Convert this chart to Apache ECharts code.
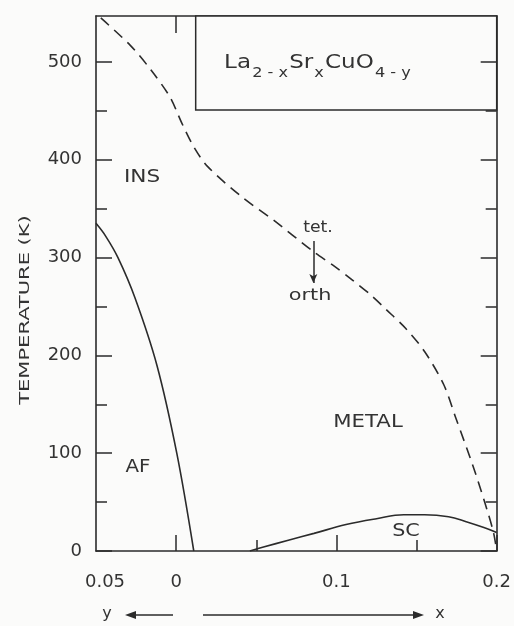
<!DOCTYPE html>
<html>
<head>
<meta charset="utf-8">
<script src="https://cdn.jsdelivr.net/npm/echarts@6/dist/echarts.min.js"></script>
<style>html,body{margin:0;padding:0;background:#fbfbfa;}#c{width:514px;height:626px;}</style>
</head>
<body>
<div id="c"></div>
<script>
// Axis: single composition scale, -0.05..0 is y (reversed label), 0..0.2 is x
var xLabelVals = [-0.05, 0, 0.1, 0.2];
var xLabelText = ['0.05', '0', '0.1', '0.2'];
var xMajorTicks = [0, 0.1, 0.2];
var xMinorTicks = [0.05, 0.15];
var yLabelVals = [0, 100, 200, 300, 400, 500];
var yMinorTicks = [50, 150, 250, 350, 450];

// tetragonal/orthorhombic boundary (dashed)
var tetX = [-0.047, -0.0286, -0.0158, -0.0038, 0.0034, 0.0111, 0.0197, 0.041, 0.061, 0.0857, 0.098, 0.110, 0.122, 0.131, 0.143, 0.155, 0.167, 0.1745, 0.185, 0.1925, 0.198, 0.2];
var tetT = [545, 517, 492, 464, 438, 413, 393, 362, 338, 306, 292, 277, 261, 247, 228, 204, 170, 136, 88, 50, 19, 0];
// antiferromagnetic boundary
var afX = [-0.05, -0.044, -0.0363, -0.0257, -0.012, 0.0004, 0.011];
var afT = [335, 322, 300, 259, 190, 100, 0];
// superconducting dome
var scX = [0.046, 0.0545, 0.07, 0.086, 0.106, 0.125, 0.142, 0.155, 0.17, 0.181, 0.192, 0.2];
var scT = [0, 4, 11, 18, 27, 33, 37, 37, 35, 30, 24, 19];
// tet -> orth arrow and inset box
var arrowX = 0.0856, arrowTop = 317, arrowBottom = 274;
var boxX = [0.0122, 0.2], boxT = [451, 547];

function zip(a, b) { return a.map(function (v, i) { return [v, b[i]]; }); }

var ink = '#2b2b2b';
var font = 'DejaVu Sans';
var chart = echarts.init(document.getElementById('c'));
var common = { type: 'value', min: -0.05, max: 0.2, splitLine: { show: false } };
var ycommon = { type: 'value', min: 0, max: 547, splitLine: { show: false } };
var lineOn = { show: true, onZero: false, lineStyle: { color: ink, width: 1.6 } };
var lineOff = { show: false, onZero: false };
function txt(x, y, s, size, sx) {
  return { type: 'text', x: x, y: y, scaleX: sx, style: { text: s, font: size + 'px "DejaVu Sans"', fill: '#333', textAlign: 'center', textVerticalAlign: 'middle' } };
}
chart.setOption({
  backgroundColor: '#fbfbfa',
  animation: false,
  grid: { left: 96, right: 16, top: 16, bottom: 75 },
  xAxis: [
    Object.assign({}, common, {
      position: 'bottom',
      axisLine: lineOn,
      axisTick: { show: true, inside: true, length: 16, customValues: xMajorTicks, lineStyle: { color: ink, width: 1.5 } },
      axisLabel: { show: true, customValues: xLabelVals, margin: 22, fontSize: 18, fontFamily: font, color: '#333',
        rich: { p: { fontSize: 18, fontFamily: font, color: '#333', padding: [0, 0, 0, 18] } },
        formatter: function (v) {
          for (var i = 0; i < xLabelVals.length; i++) {
            if (Math.abs(v - xLabelVals[i]) < 1e-6) return i === 0 ? '{p|' + xLabelText[i] + '}' : xLabelText[i];
          }
          return '';
        } }
    }),
    Object.assign({}, common, {
      position: 'bottom',
      axisLine: lineOff,
      axisTick: { show: true, inside: true, length: 11, customValues: xMinorTicks, lineStyle: { color: ink, width: 1.5 } },
      axisLabel: { show: false }
    }),
    Object.assign({}, common, {
      position: 'top',
      axisLine: lineOn,
      axisTick: { show: true, inside: true, length: 17, customValues: [0], lineStyle: { color: ink, width: 1.5 } },
      axisLabel: { show: false }
    })
  ],
  yAxis: [
    Object.assign({}, ycommon, {
      position: 'left',
      axisLine: lineOn,
      axisTick: { show: true, inside: true, length: 16, customValues: yLabelVals, lineStyle: { color: ink, width: 1.5 } },
      axisLabel: { show: true, customValues: yLabelVals, margin: 14, fontSize: 18, fontFamily: font, color: '#333' }
    }),
    Object.assign({}, ycommon, {
      position: 'left', offset: 0,
      axisLine: lineOff,
      axisTick: { show: true, inside: true, length: 11, customValues: yMinorTicks, lineStyle: { color: ink, width: 1.5 } },
      axisLabel: { show: false }
    }),
    Object.assign({}, ycommon, {
      position: 'right', z: 5,
      axisLine: lineOn,
      axisTick: { show: true, inside: true, length: 16, customValues: yLabelVals, lineStyle: { color: ink, width: 1.5 } },
      axisLabel: { show: false }
    }),
    Object.assign({}, ycommon, {
      position: 'right', offset: 0, z: 5,
      axisLine: lineOff,
      axisTick: { show: true, inside: true, length: 11, customValues: yMinorTicks, lineStyle: { color: ink, width: 1.5 } },
      axisLabel: { show: false }
    })
  ],
  series: [
    { type: 'line', z: 1, data: [], silent: true,
      markArea: { silent: true, itemStyle: { color: '#fbfbfa', borderColor: ink, borderWidth: 1.5, opacity: 1 },
        data: [[{ coord: [boxX[0], boxT[0]] }, { coord: [boxX[1], boxT[1]] }]] } },
    { type: 'line', z: 3, data: zip(tetX, tetT), smooth: 0.3, showSymbol: false,
      lineStyle: { color: ink, width: 1.6, type: [11, 7] } },
    { type: 'line', z: 3, data: zip(afX, afT), smooth: 0.35, showSymbol: false,
      lineStyle: { color: ink, width: 1.6 } },
    { type: 'line', z: 3, data: zip(scX, scT), smooth: 0.4, showSymbol: false,
      lineStyle: { color: ink, width: 1.6 } },
    { type: 'line', z: 3, data: [], silent: true,
      markLine: { silent: true, symbol: ['none', 'arrow'], symbolSize: [6, 9], label: { show: false },
        lineStyle: { color: ink, width: 1.5, type: 'solid' },
        data: [[{ coord: [arrowX, arrowTop] }, { coord: [arrowX, arrowBottom] }]] } }
  ],
  graphic: [
    { type: 'text', x: 25, y: 310, rotation: Math.PI / 2, scaleX: 1.5, style: { text: 'TEMPERATURE (K)', font: '14px "DejaVu Sans"', fill: '#333', textAlign: 'center', textVerticalAlign: 'middle' } },
    { type: 'text', x: 318, y: 68, z: 10, scaleX: 1.15, style: {
        text: '{a|La}{s|2 - x}{a|Sr}{s|x}{a|CuO}{s|4 - y}',
        textAlign: 'center', textVerticalAlign: 'middle', fill: '#333',
        rich: {
          a: { fontSize: 20, fontFamily: font, fill: '#333', lineHeight: 30, verticalAlign: 'top' },
          s: { fontSize: 14, fontFamily: font, fill: '#333', lineHeight: 30, padding: [13, 1, 0, 1], verticalAlign: 'top' }
        } } },
    txt(142, 177, 'INS', 18, 1.2),
    txt(138, 467, 'AF', 18, 1.1),
    txt(368, 422, 'METAL', 18, 1.18),
    txt(406, 531, 'SC', 18, 1.15),
    txt(318, 228, 'tet.', 15, 1.15),
    txt(310, 296, 'orth', 16, 1.3),
    txt(107, 614, 'y', 16, 1),
    { type: 'line', shape: { x1: 173, y1: 615, x2: 132, y2: 615 }, style: { stroke: ink, lineWidth: 1.5 } },
    { type: 'polygon', shape: { points: [[125, 615], [136, 611], [136, 619]] }, style: { fill: ink } },
    { type: 'line', shape: { x1: 203, y1: 615, x2: 416, y2: 615 }, style: { stroke: ink, lineWidth: 1.5 } },
    { type: 'polygon', shape: { points: [[424, 615], [413, 611], [413, 619]] }, style: { fill: ink } },
    txt(440, 614, 'x', 16, 1)
  ]
});
</script>
</body>
</html>
